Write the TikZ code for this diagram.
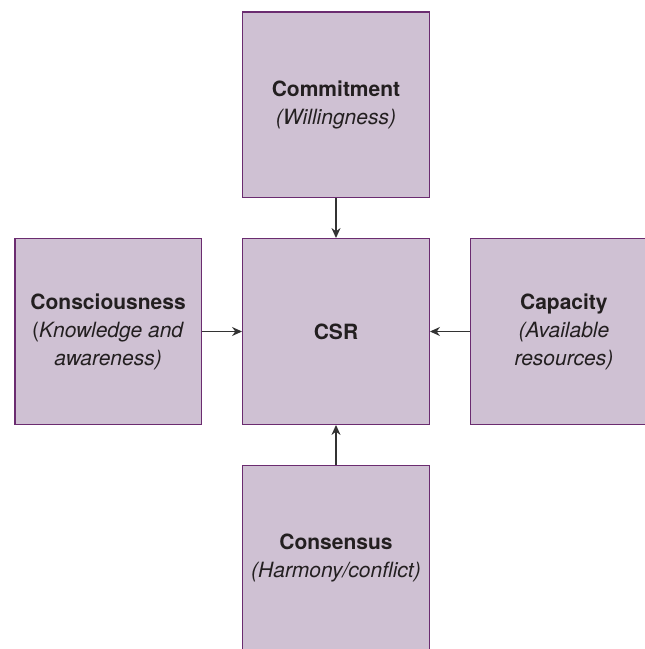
\documentclass[tikz,border=0pt]{standalone}
\usepackage{fontspec}
\setmainfont{TeX Gyre Heros}
\usetikzlibrary{positioning,arrows.meta}
\definecolor{boxfill}{HTML}{CFC1D3}
\definecolor{boxline}{HTML}{6B2C70}
\definecolor{txtcol}{HTML}{231F20}
\definecolor{arrcol}{HTML}{333333}
\tikzset{
  cbox/.style={draw=boxline, fill=boxfill, line width=1.4pt, minimum width=186.5pt,
    minimum height=185.5pt, inner sep=0pt, align=center, text=txtcol},
  link/.style={->, draw=arrcol, line width=1.3pt}
}
\begin{document}
\begin{tikzpicture}[x=1pt, y=1pt, font=\fontsize{21}{28}\selectfont, node distance=40pt,
  >={Stealth[length=10pt,width=9pt]}]
  \clip (0,0) rectangle (645,649);
  \node[cbox] (csr) at (336,317.5) {\textbf{CSR}};
  \node[cbox, above=of csr] (commit) {\textbf{Commitment}\\\textit{(Willingness)}};
  \node[cbox, left=of csr] (consc) {\textbf{Consciousness}\\(\textit{Knowledge and}\\\textit{awareness)}};
  \node[cbox, right=of csr] (capac) {\textbf{Capacity}\\\textit{(Available}\\\textit{resources)}};
  \node[cbox, below=of csr] (consen) {\textbf{Consensus}\\\textit{(Harmony/conflict)}};
  % arrows into CSR
  \draw[link] (commit) -- (csr);
  \draw[link] (consc) -- (csr);
  \draw[link] (capac) -- (csr);
  \draw[link] (consen) -- (csr);
\end{tikzpicture}
\end{document}
